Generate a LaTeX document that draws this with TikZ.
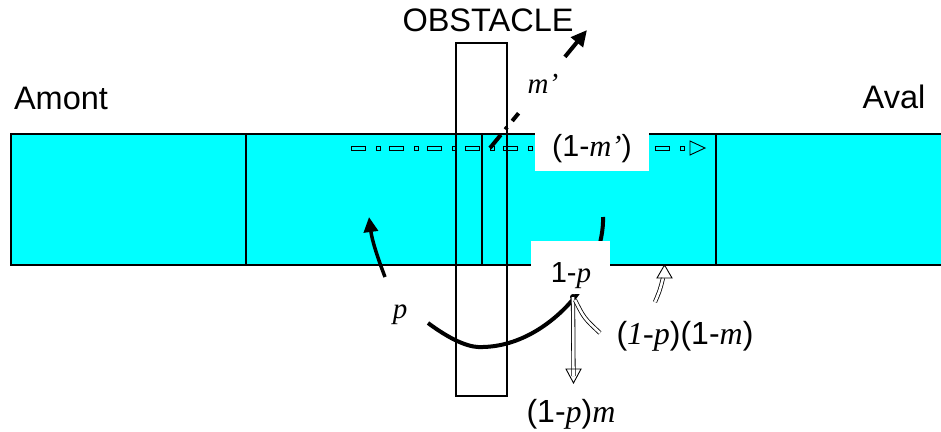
\documentclass[tikz,border=0pt]{standalone}
\usepackage{fontspec}
\setmainfont{Liberation Sans}
\newfontfamily\tmsfont{Liberation Serif}
\usetikzlibrary{arrows.meta}
\newcommand{\vi}[1]{{\tmsfont\itshape #1}}
\definecolor{water}{RGB}{0,255,255}
\begin{document}
\begin{tikzpicture}[x=1pt,y=-1pt,
  lbl/.style={inner sep=0pt, font=\fontsize{29}{34}\selectfont},
  word/.style={inner sep=0pt, font=\fontsize{32.5}{38}\selectfont},
  wbox/.style={fill=white, draw=none, inner sep=0pt},
  hollow/.style={double, double distance=2.6pt, line width=0.8pt},
  bigline/.style={line width=4pt},
  thin/.style={line width=0.9pt},
  border/.style={line width=1.2pt}]
\useasboundingbox (0,0) rectangle (941,431);

% channel
\fill[water] (11,134) rectangle (941,265);
\draw[border] (941,134) -- (11,134) -- (11,265) -- (941,265);
\foreach \xx in {246,482,716} \draw[border] (\xx,134) -- (\xx,265);

% obstacle
\draw[border] (456,43) rectangle (507,396);

% dash-dot flow line
\foreach \k in {0,...,8} \draw[thin] ({351+38*\k},146) rectangle ++(14,4);
\foreach \k in {0,...,8} \draw[thin] ({376+38*\k},146) rectangle ++(4,4);
\draw[thin] (690,141) -- (705,148) -- (690,155) -- cycle;

% m' dashed arrow
\coordinate (ms) at (490,148);
\coordinate (me) at (587,30);
\draw[line width=4pt, dash pattern=on 17pt off 7pt on 3pt off 8pt on 10pt off 73pt on 30pt,
  -{Triangle[length=16pt,width=15pt]}] (ms) -- (me);

% big curve
\draw[bigline] (428,323) .. controls (455,343) and (472,348) .. (483,347)
  .. controls (525,346) and (558,318) .. (575,297)
  .. controls (592,275) and (604,240) .. (603,217);

% left arrow
\draw[line width=3.5pt, -{Triangle[length=15pt,width=14pt]}] (385,277) .. controls (377,256) and (372,240) .. (369,217);

% white boxes
\node[wbox, minimum width=114pt, minimum height=46pt] (b1) at (592,148) {};
\node[wbox, minimum width=79pt, minimum height=53pt] (b2) at (570.5,267.5) {};

% dot and hollow arrows
\coordinate (dot) at (573,297);
\fill (dot) circle[radius=3pt];
\coordinate (dn) at (573.5,376);
\draw[hollow] (dot) -- (dn);
\draw[thin] (566,369) -- (581,369) -- (573.5,383) -- cycle;
\coordinate (cv) at (600,333);
\draw[hollow] (575,300) .. controls (584,318) .. (cv);
\coordinate (u1) at (655,302);
\coordinate (u2) at (663,278);
\draw[hollow] (u1) .. controls (660,290) .. (u2);
\draw[thin] (657,278) -- (672,278) -- (664.5,265) -- cycle;

% labels
\node[word] (obs) at (488,20) {OBSTACLE};
\node[word] (am) at (61,98) {Amont};
\node[word] (av) at (894,97) {Aval};
\node[lbl, anchor=base] (mp) at (543,93) {\vi{m’}};
\node[lbl, anchor=base, font=\fontsize{30.5}{36}\selectfont] (t1) at (592,156) {(1-\vi{m’})};
\node[lbl, anchor=base] (lp) at (400,318) {\vi{p}};
\node[lbl, anchor=base] (l1p) at (571,282) {1-\vi{p}};
\node[lbl, anchor=base, font=\fontsize{32}{38}\selectfont] (lpm) at (685,344) {(\vi{1-p})(1-\vi{m})};
\node[lbl, anchor=base, font=\fontsize{32}{38}\selectfont] (lpmd) at (571,422) {(1-\vi{p})\vi{m}};
\end{tikzpicture}
\end{document}
